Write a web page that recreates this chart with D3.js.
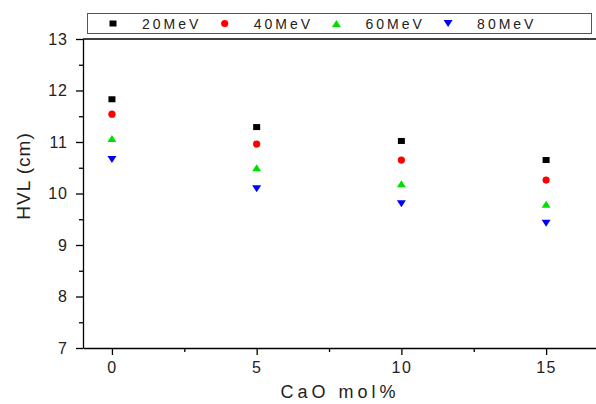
<!DOCTYPE html>
<html>
<head>
<meta charset="utf-8">
<script src="https://cdn.jsdelivr.net/npm/d3@7"></script>
<style>
  body { margin: 0; background: #fff; }
  svg { font-family: "Liberation Sans", Arial, sans-serif; }
  .axis text { font-size: 16px; fill: #222; }
  .axis path, .axis line { stroke: #000; stroke-width: 1.3; }
</style>
</head>
<body>
<svg id="chart" width="596" height="404"></svg>
<script>
// data
const cao = [0, 5, 10, 15];
const seriesNames = ['20MeV', '40MeV', '60MeV', '80MeV'];
const hvl20 = [11.83, 11.29, 11.02, 10.65];
const hvl40 = [11.54, 10.96, 10.65, 10.26];
const hvl60 = [11.07, 10.5, 10.19, 9.79];
const hvl80 = [10.66, 10.09, 9.8, 9.42];
const yTicks = [7, 8, 9, 10, 11, 12, 13];
const xTicks = [0, 5, 10, 15];

const colors = ['#000000', '#ff0000', '#00e000', '#0000ff'];
const shapes = ['square', 'circle', 'up', 'down'];
const series = [hvl20, hvl40, hvl60, hvl80];

const margin = { left: 83, top: 39, right: -8, bottom: 56 };
const W = 596, H = 404;
const width = W - margin.left - margin.right;
const height = H - margin.top - margin.bottom;

const svg = d3.select('#chart');
const chart = svg.append('g')
  .attr('transform', `translate(${margin.left},${margin.top})`);

const x = d3.scaleLinear().domain([-1, 17]).range([0, width]);
const y = d3.scaleLinear().domain([7, 13]).range([height, 0]);

// frame top line
chart.append('line')
  .attr('x1', 0).attr('x2', width)
  .attr('y1', 0).attr('y2', 0)
  .attr('stroke', '#000').attr('stroke-width', 1.3);

// minor ticks
chart.append('g')
  .attr('class', 'axis')
  .attr('transform', `translate(0,${height})`)
  .call(d3.axisBottom(x).tickValues([2.5, 7.5, 12.5]).tickSize(4).tickFormat(''))
  .call(g => g.select('.domain').remove());
chart.append('g')
  .attr('class', 'axis')
  .call(d3.axisLeft(y).tickValues(d3.range(7.5, 13, 1)).tickSize(4).tickFormat(''))
  .call(g => g.select('.domain').remove());

// major axes
chart.append('g')
  .attr('class', 'axis')
  .attr('transform', `translate(0,${height})`)
  .call(d3.axisBottom(x).tickValues(xTicks).tickSize(7).tickSizeOuter(0).tickPadding(7))
  .selectAll('text').attr('letter-spacing', '1.5px');
chart.append('g')
  .attr('class', 'axis')
  .call(d3.axisLeft(y).tickValues(yTicks).tickFormat(d3.format('d')).tickSize(7).tickSizeOuter(0).tickPadding(8))
  .selectAll('text').attr('letter-spacing', '1px');

// axis titles
svg.append('text')
  .attr('transform', `translate(30,${margin.top + 137}) rotate(-90)`)
  .attr('text-anchor', 'middle')
  .attr('font-size', 19).attr('fill', '#222')
  .attr('letter-spacing', '1px')
  .text('HVL (cm)');
svg.append('text')
  .attr('x', 340).attr('y', 398)
  .attr('text-anchor', 'middle')
  .attr('font-size', 18).attr('fill', '#222')
  .attr('letter-spacing', '4px')
  .text('CaO mol%');

// markers
function drawMarker(g, shape, color) {
  if (shape === 'square') {
    g.append('rect').attr('x', -3.5).attr('y', -3).attr('width', 7).attr('height', 6).attr('fill', color);
  } else if (shape === 'circle') {
    g.append('circle').attr('r', 3.6).attr('fill', color);
  } else if (shape === 'up') {
    g.append('path').attr('d', 'M-4.5,3.5L4.5,3.5L0,-3.5Z').attr('fill', color);
  } else {
    g.append('path').attr('d', 'M-4.5,-3.5L4.5,-3.5L0,3.5Z').attr('fill', color);
  }
}

series.forEach((vals, si) => {
  chart.selectAll(`.pt${si}`)
    .data(vals).enter()
    .append('g')
    .attr('class', `pt${si}`)
    .attr('transform', (d, i) => `translate(${x(cao[i])},${y(d)})`)
    .each(function () { drawMarker(d3.select(this), shapes[si], colors[si]); });
});

// legend
const legend = svg.append('g');
legend.append('rect')
  .attr('x', 87.5).attr('y', 13.5).attr('width', 504).attr('height', 20)
  .attr('fill', '#fff').attr('stroke', '#555').attr('stroke-width', 1);
seriesNames.forEach((name, i) => {
  const item = legend.append('g').attr('transform', `translate(${113 + i * 111.7},23.5)`);
  drawMarker(item, shapes[i], colors[i]);
  item.append('text')
    .attr('x', 29).attr('y', 5)
    .attr('font-size', 14).attr('fill', '#222')
    .attr('letter-spacing', '3px')
    .text(name);
});
</script>
</body>
</html>
